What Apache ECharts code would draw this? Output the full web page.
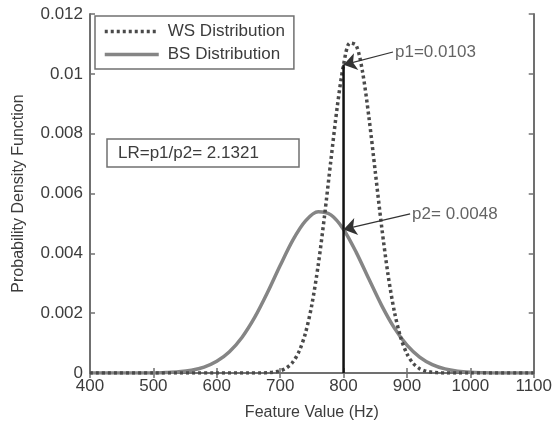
<!DOCTYPE html>
<html>
<head>
<meta charset="utf-8">
<script src="https://cdn.jsdelivr.net/npm/echarts@6/dist/echarts.min.js"></script>
<style>
  html, body { margin: 0; padding: 0; background: #fff; }
  #chart { width: 555px; height: 427px; }
</style>
</head>
<body>
<div id="chart"></div>
<script>
// Between-speaker (BS) density, sampled every 20 Hz
const bsFreq = [400, 420, 440, 460, 480, 500, 520, 540, 560, 580, 600, 620, 640, 660, 680, 700,
  720, 740, 760, 780, 800, 820, 840, 860, 880, 900, 920, 940, 960, 980, 1000, 1020, 1040, 1060, 1080, 1100];
const bsPdf = [0, 0, 0, 0, 0, 0.000002, 0.000017, 0.000041, 0.000094, 0.000199, 0.000391, 0.000711,
  0.001197, 0.001865, 0.002689, 0.003592, 0.004442, 0.005084, 0.005387, 0.005284, 0.0048, 0.004033,
  0.003139, 0.002262, 0.001509, 0.000931, 0.000532, 0.000281, 0.000138, 0.000063, 0.000026, 0.00001,
  0, 0, 0, 0];

// Within-speaker (WS) density, sampled every 10 Hz around its peak
const wsFreq = [400, 500, 600, 650, 670, 680, 690, 700, 710, 720, 730, 740, 750, 760, 770, 780, 790,
  800, 810, 820, 830, 840, 850, 860, 870, 880, 890, 900, 910, 920, 930, 940, 950, 960, 980, 1000, 1100];
const wsPdf = [0, 0, 0, 0, 0.000001, 0.000011, 0.000031, 0.000074, 0.000171, 0.000367, 0.00073,
  0.001342, 0.002285, 0.003604, 0.005259, 0.007106, 0.008888, 0.0103, 0.01103, 0.01095, 0.01006,
  0.008551, 0.006732, 0.004906, 0.00331, 0.002067, 0.001196, 0.00064, 0.000317, 0.000146, 0.000062,
  0.000024, 0.000008, 0.000002, 0, 0, 0];

// Feature value under test and the two densities read at it
const testFreq = 800;
const p1 = 0.0103;
const p2 = 0.0048;
const lrText = 'LR=p1/p2= 2.1321';

// Where the annotation labels sit (data coordinates)
const p1LabelAt = [878, 0.01073];
const p2LabelAt = [905, 0.00532];

const xTicks = [400, 500, 600, 700, 800, 900, 1000, 1100];
const yTickLabels = ['0', '0.002', '0.004', '0.006', '0.008', '0.01', '0.012'];

const zip = (xs, ys) => xs.map((x, i) => [x, ys[i]]);

const txtColor = '#3c3c3c';
const axisColor = '#707070';
const bsColor = '#858585';
const wsColor = '#4a4a4a';
const FONT = 'Liberation Sans, Arial, sans-serif';

const chart = echarts.init(document.getElementById('chart'), null, { renderer: 'canvas' });

const axisCommon = {
  axisLine: { show: true, lineStyle: { color: axisColor, width: 2 } },
  axisTick: { show: true, inside: true, length: 5, lineStyle: { color: axisColor, width: 1.5 } },
  splitLine: { show: false }
};

chart.setOption({
  animation: false,
  backgroundColor: '#fff',
  textStyle: { fontFamily: FONT },
  grid: { left: 90, right: 18, top: 14, bottom: 54, show: false },
  title: {
    text: lrText,
    left: 107, top: 139,
    padding: [6, 40, 5, 11],
    borderColor: axisColor, borderWidth: 1.5,
    textStyle: { fontSize: 17, fontWeight: 'normal', color: txtColor, fontFamily: FONT }
  },
  legend: {
    orient: 'vertical',
    left: 95, top: 16,
    padding: [7, 9, 6, 8],
    itemGap: 6,
    itemWidth: 54, itemHeight: 14,
    borderColor: axisColor, borderWidth: 1.5,
    backgroundColor: '#fff',
    itemStyle: { color: 'transparent', borderColor: 'transparent', borderWidth: 0 },
    lineStyle: { width: 3.5 },
    textStyle: { fontSize: 17, color: txtColor, fontFamily: FONT, padding: [0, 0, 0, 4] },
    data: ['WS Distribution', 'BS Distribution']
  },
  xAxis: [{
    type: 'value', min: 400, max: 1100, interval: 100,
    position: 'bottom',
    name: 'Feature Value (Hz)', nameLocation: 'middle', nameGap: 32,
    nameTextStyle: { fontSize: 16, color: txtColor, fontFamily: FONT },
    axisLabel: { fontSize: 17, color: txtColor, margin: 5, fontFamily: FONT,
      formatter: v => xTicks.includes(v) ? String(v) : '' },
    ...axisCommon
  }, {
    type: 'value', min: 400, max: 1100, interval: 100,
    position: 'top',
    axisLabel: { show: false },
    ...axisCommon
  }],
  yAxis: [{
    type: 'value', min: 0, max: 0.012, interval: 0.002,
    position: 'left',
    name: 'Probability Density Function', nameLocation: 'middle', nameGap: 63,
    nameTextStyle: { fontSize: 16, color: txtColor, fontFamily: FONT },
    axisLabel: { fontSize: 17, color: txtColor, margin: 7, fontFamily: FONT,
      formatter: v => yTickLabels[Math.round(v / 0.002)] },
    ...axisCommon
  }, {
    type: 'value', min: 0, max: 0.012, interval: 0.002,
    position: 'right',
    axisLabel: { show: false },
    ...axisCommon
  }],
  series: [
    {
      name: 'BS Distribution', type: 'line', smooth: 0.3, symbol: 'none',
      data: zip(bsFreq, bsPdf),
      lineStyle: { color: bsColor, width: 3.5 },
      itemStyle: { color: bsColor },
      z: 2
    },
    {
      name: 'WS Distribution', type: 'line', smooth: 0.3, symbol: 'none',
      data: zip(wsFreq, wsPdf),
      lineStyle: { color: wsColor, width: 3.5, type: [3, 3] },
      itemStyle: { color: wsColor },
      z: 3
    },
    {
      name: 'test value', type: 'line', symbol: 'none',
      data: [[testFreq, 0], [testFreq, p1]],
      lineStyle: { color: '#111', width: 2.5 },
      z: 4,
      markLine: {
        silent: true,
        symbol: ['none', 'arrow'],
        symbolSize: 13,
        lineStyle: { color: '#333', width: 1.2, type: 'solid' },
        label: { show: false },
        data: [
          [{ coord: p1LabelAt }, { coord: [testFreq, p1] }],
          [{ coord: p2LabelAt }, { coord: [testFreq, p2] }]
        ]
      }
    },
    {
      name: 'labels', type: 'scatter', symbolSize: 0,
      data: [
        { value: p1LabelAt, label: { formatter: 'p1=' + p1.toFixed(4) } },
        { value: p2LabelAt, label: { formatter: 'p2= ' + p2.toFixed(4) } }
      ],
      label: { show: true, position: 'right', distance: 2, fontSize: 17, color: txtColor, fontFamily: FONT },
      z: 5
    }
  ]
});
</script>
</body>
</html>
